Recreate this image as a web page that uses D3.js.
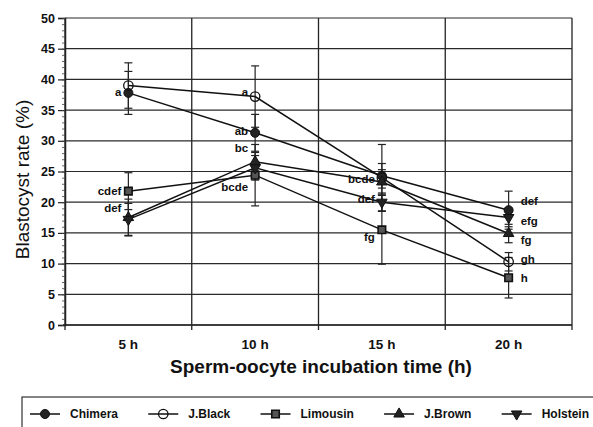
<!DOCTYPE html>
<html>
<head>
<meta charset="utf-8">
<script src="https://cdn.jsdelivr.net/npm/d3@7"></script>
<style>
  body { margin: 0; background: #fff; }
  text { font-family: "Liberation Sans", Arial, sans-serif; fill: #111; }
</style>
</head>
<body>
<div id="container"></div>
<script>
/* DATA */
const times = ["5 h", "10 h", "15 h", "20 h"];
const seriesNames = ["Chimera", "J.Black", "Limousin", "J.Brown", "Holstein"];

const chimera  = [37.8, 31.3, 24.3, 18.7];
const jBlack   = [39.0, 37.2, 24.0, 10.3];
const limousin = [21.8, 24.4, 15.5, 7.7];
const jBrown   = [17.5, 26.6, 23.3, 14.9];
const holstein = [17.2, 25.6, 20.0, 17.5];

// error (SEM)
const chimeraErr  = [3.5, 3.0, 2.0, 3.1];
const jBlackErr   = [3.7, 5.0, 5.4, 1.5];
const limousinErr = [3.0, 5.0, 5.6, 3.3];
const jBrownErr   = [3.0, 1.5, 2.0, 1.5];
const holsteinErr = [2.6, 2.0, 1.5, 1.5];

const yTicks = [0, 5, 10, 15, 20, 25, 30, 35, 40, 45, 50];

// significance letters
const sigLabels = [
  { time: "5 h",  y: 38.0, text: "a",    side: "left" },
  { time: "5 h",  y: 21.8, text: "cdef", side: "left" },
  { time: "5 h",  y: 19.0, text: "def",  side: "left" },
  { time: "10 h", y: 38.0, text: "a",    side: "left" },
  { time: "10 h", y: 31.6, text: "ab",   side: "left" },
  { time: "10 h", y: 28.9, text: "bc",   side: "left" },
  { time: "10 h", y: 22.4, text: "bcde", side: "left" },
  { time: "15 h", y: 23.8, text: "bcde", side: "left" },
  { time: "15 h", y: 20.6, text: "def",  side: "left" },
  { time: "15 h", y: 14.3, text: "fg",   side: "left" },
  { time: "20 h", y: 20.2, text: "def",  side: "right" },
  { time: "20 h", y: 16.9, text: "efg",  side: "right" },
  { time: "20 h", y: 13.8, text: "fg",   side: "right" },
  { time: "20 h", y: 10.7, text: "gh",   side: "right" },
  { time: "20 h", y: 7.6,  text: "h",    side: "right" }
];

const series = [
  { name: seriesNames[0], values: chimera,  err: chimeraErr,  shape: "circle" },
  { name: seriesNames[1], values: jBlack,   err: jBlackErr,   shape: "open" },
  { name: seriesNames[2], values: limousin, err: limousinErr, shape: "square" },
  { name: seriesNames[3], values: jBrown,   err: jBrownErr,   shape: "up" },
  { name: seriesNames[4], values: holstein, err: holsteinErr, shape: "down" }
];

/* CONSTANTS */
const width = 593, height = 427;
const margin = { top: 18, right: 21, bottom: 102, left: 65 };

const svg = d3.select("#container").append("svg")
  .attr("width", width)
  .attr("height", height);

/* SCALES */
const xScale = d3.scaleBand()
  .domain(times)
  .range([margin.left, width - margin.right]);

const yScale = d3.scaleLinear()
  .domain([0, 50])
  .range([height - margin.bottom, margin.top]);

const cx = t => xScale(t) + xScale.bandwidth() / 2;
const x0 = margin.left, x1 = width - margin.right;
const y0 = yScale(0), y1 = yScale(50);

/* GRID */
svg.append("g").selectAll("line")
  .data(yTicks)
  .join("line")
  .attr("x1", x0).attr("x2", x1)
  .attr("y1", d => yScale(d)).attr("y2", d => yScale(d))
  .attr("stroke", "#2a2a2a").attr("stroke-width", 1.2);

const bounds = times.map(t => xScale(t)).concat([x1]);
svg.append("g").selectAll("line")
  .data(bounds)
  .join("line")
  .attr("x1", d => d).attr("x2", d => d)
  .attr("y1", y1).attr("y2", y0 + 5)
  .attr("stroke", "#222").attr("stroke-width", 1.3);

/* AXES */
const yAxis = svg.append("g")
  .attr("transform", `translate(${x0},0)`)
  .call(d3.axisLeft(yScale).tickValues(yTicks).tickSize(7).tickPadding(3));
yAxis.select(".domain").attr("stroke", "#222").attr("stroke-width", 1.5);
yAxis.selectAll(".tick line").attr("stroke", "#222").attr("stroke-width", 1.2);
yAxis.selectAll("text")
  .style("font-size", "12.5px").style("font-weight", "bold")
  .attr("fill", "#111");

svg.append("g")
  .attr("transform", `translate(${x0},0)`)
  .call(d3.axisLeft(yScale).tickValues(d3.range(0, 51, 1)).tickSize(3).tickFormat(""))
  .call(g => g.select(".domain").remove())
  .selectAll("line").attr("stroke", "#444").attr("stroke-width", 0.8);

svg.append("line")
  .attr("x1", x0 - 2).attr("x2", x1)
  .attr("y1", y0).attr("y2", y0)
  .attr("stroke", "#222").attr("stroke-width", 1.5);

svg.append("g").selectAll("text")
  .data(times)
  .join("text")
  .attr("x", d => cx(d))
  .attr("y", y0 + 24)
  .attr("text-anchor", "middle")
  .style("font-size", "13.5px").style("font-weight", "bold")
  .text(d => d);

svg.append("text")
  .attr("x", 321).attr("y", 373)
  .attr("text-anchor", "middle")
  .style("font-size", "19px").style("font-weight", "bold")
  .text("Sperm-oocyte incubation time (h)");

svg.append("text")
  .attr("transform", `translate(29,${(y0 + y1) / 2 + 8}) rotate(-90)`)
  .attr("text-anchor", "middle")
  .style("font-size", "19px")
  .text("Blastocyst rate (%)");

/* ERROR BARS */
const errData = series.flatMap(s => s.values.map((v, i) => ({ t: times[i], v, e: s.err[i] })));
const eb = svg.append("g").attr("stroke", "#222").attr("stroke-width", 1.2);
eb.selectAll(".stem").data(errData).join("line")
  .attr("x1", d => cx(d.t)).attr("x2", d => cx(d.t))
  .attr("y1", d => yScale(d.v - d.e)).attr("y2", d => yScale(d.v + d.e));
eb.selectAll(".capT").data(errData).join("line")
  .attr("x1", d => cx(d.t) - 4).attr("x2", d => cx(d.t) + 4)
  .attr("y1", d => yScale(d.v + d.e)).attr("y2", d => yScale(d.v + d.e));
eb.selectAll(".capB").data(errData).join("line")
  .attr("x1", d => cx(d.t) - 4).attr("x2", d => cx(d.t) + 4)
  .attr("y1", d => yScale(d.v - d.e)).attr("y2", d => yScale(d.v - d.e));

/* LINES */
const line = d3.line()
  .x((d, i) => cx(times[i]))
  .y(d => yScale(d));

svg.append("g").selectAll("path")
  .data(series)
  .join("path")
  .attr("d", d => line(d.values))
  .attr("fill", "none")
  .attr("stroke", "#111")
  .attr("stroke-width", 1.5);

/* MARKERS */
function drawMarker(g, shape) {
  if (shape === "circle") {
    g.append("path").attr("d", d3.symbol(d3.symbolCircle, 64)())
      .attr("fill", "#222").attr("stroke", "#111");
  } else if (shape === "open") {
    g.append("path").attr("d", d3.symbol(d3.symbolCircle, 70)())
      .attr("fill", "none").attr("stroke", "#111").attr("stroke-width", 1.3);
  } else if (shape === "square") {
    g.append("path").attr("d", d3.symbol(d3.symbolSquare, 56)())
      .attr("fill", "#555").attr("stroke", "#111").attr("stroke-width", 1.6);
  } else if (shape === "up") {
    g.append("path").attr("d", d3.symbol(d3.symbolTriangle, 48)())
      .attr("fill", "#222").attr("stroke", "#111");
  } else {
    g.append("path").attr("d", d3.symbol(d3.symbolTriangle, 48)())
      .attr("transform", "rotate(180)")
      .attr("fill", "#222").attr("stroke", "#111");
  }
}

series.forEach(s => {
  s.values.forEach((v, i) => {
    const g = svg.append("g").attr("transform", `translate(${cx(times[i])},${yScale(v)})`);
    drawMarker(g, s.shape);
  });
});

/* SIGNIFICANCE LETTERS */
svg.append("g").selectAll("text")
  .data(sigLabels)
  .join("text")
  .attr("x", d => d.side === "left" ? cx(d.time) - 7 : cx(d.time) + 12)
  .attr("y", d => yScale(d.y) + 4)
  .attr("text-anchor", d => d.side === "left" ? "end" : "start")
  .style("font-size", "11.5px").style("font-weight", "bold")
  .text(d => d.text);

/* LEGEND */
svg.append("rect")
  .attr("x", 22).attr("y", 397)
  .attr("width", 590).attr("height", 50)
  .attr("fill", "none").attr("stroke", "#333").attr("stroke-width", 1.2);

const legend = svg.append("g");
const items = legend.selectAll("g")
  .data(series)
  .join("g");
items.append("line")
  .attr("x1", 0).attr("x2", 30).attr("y1", 0).attr("y2", 0)
  .attr("stroke", "#111").attr("stroke-width", 1.5);
items.each(function(d) {
  const g = d3.select(this).append("g").attr("transform", "translate(15,0)");
  drawMarker(g, d.shape);
});
items.append("text")
  .attr("x", 40).attr("y", 4)
  .style("font-size", "12px").style("font-weight", "bold")
  .text(d => d.name);

// spread items between the box edges
const widths = [];
items.each(function() { widths.push(40 + d3.select(this).select("text").node().getComputedTextLength()); });
const lx0 = 30, lx1 = 589;
const gap = (lx1 - lx0 - d3.sum(widths)) / (widths.length - 1);
let pos = lx0;
items.each(function(d, i) {
  d3.select(this).attr("transform", `translate(${pos},414)`);
  pos += widths[i] + gap;
});
</script>
</body>
</html>
